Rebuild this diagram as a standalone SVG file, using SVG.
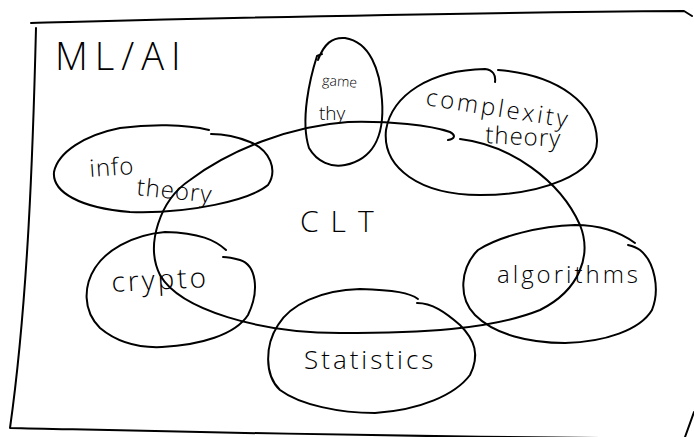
<svg xmlns="http://www.w3.org/2000/svg" width="694" height="437" viewBox="0 0 694 437">
  <style>
    .ink { fill: none; stroke: #000; stroke-width: 2; stroke-linecap: round; stroke-linejoin: round; }
    .lbl { font-family: "Open Sans", "Liberation Sans", sans-serif; font-weight: 300; fill: #000; }
  </style>
  <rect width="694" height="437" fill="#fff"/>

  <!-- outer frame: ML/AI -->
  <g id="ml-ai">
    <path class="ink" d="M31,23 C150,20 400,13 684,11 L692,16"/>
    <path class="ink" d="M36,28 C33,150 28,300 10,428 C150,431 350,436 600,438"/>
    <path class="ink" d="M694,412 L685,437"/>
    <text class="lbl" x="55" y="70" font-size="38" letter-spacing="7">ML/AI</text>
  </g>

  <g id="clt">
    <path class="ink" d="M448,140 C455,139 456,135 450,132 C430,125 390,121 348,122 C290,126 230,150 190,180 C160,200 145,245 160,275 C180,310 260,333 340,333 C420,333 490,330 540,310 C580,290 592,255 580,225 C560,180 510,145 460,139"/>
    <text class="lbl" x="300" y="232" font-size="30" letter-spacing="12">CLT</text>
  </g>

  <g id="game-theory">
    <path class="ink" d="M322,54 L317,56 C310,78 300,120 309,148 C317,162 332,168 345,165 C370,160 385,140 382,100 C380,70 370,42 345,38 C332,37 324,44 318,60"/>
    <text class="lbl" x="322" y="85" font-size="14" transform="rotate(4 322 85)">game</text>
    <text class="lbl" x="319" y="120" font-size="19">thy</text>
  </g>

  <g id="complexity-theory">
    <path class="ink" d="M495,82 C496,75 493,70 485,69 C430,70 392,95 386,130 C382,168 420,195 480,195 C540,195 598,175 597,140 C596,105 560,75 498,70"/>
    <text class="lbl" x="425" y="105" font-size="24" letter-spacing="3" transform="rotate(9 425 105)">complexity</text>
    <text class="lbl" x="485" y="143" font-size="24" letter-spacing="1" transform="rotate(3 485 143)">theory</text>
  </g>

  <g id="info-theory">
    <path class="ink" d="M209,130 C185,124 150,124 120,128 C85,135 58,152 54,172 C52,192 80,208 130,212 C190,214 250,200 268,185 C278,170 270,150 250,142 C238,137 225,134 211,134"/>
    <text class="lbl" x="90" y="177" font-size="24" letter-spacing="1" transform="rotate(-4 90 177)">info</text>
    <text class="lbl" x="136" y="195" font-size="24" letter-spacing="1" transform="rotate(6 136 195)">theory</text>
  </g>

  <g id="crypto">
    <path class="ink" d="M226,250 C215,240 200,233 165,232 C130,235 105,252 95,268 C84,285 82,310 100,328 C118,343 140,348 162,347 C200,345 235,335 248,315 C260,290 256,265 240,260 C233,258 228,257 223,257"/>
    <text class="lbl" x="112" y="292" font-size="28" letter-spacing="3" transform="rotate(-3 112 292)">crypto</text>
  </g>

  <g id="statistics">
    <path class="ink" d="M418,299 C410,293 395,290 360,289 C320,290 290,305 278,325 C265,345 264,375 280,390 C300,405 340,413 375,413 C420,410 455,395 470,375 C480,355 475,340 460,325 C445,312 432,303 417,303"/>
    <text class="lbl" x="304" y="369" font-size="26" letter-spacing="3">Statistics</text>
  </g>

  <g id="algorithms">
    <path class="ink" d="M635,243 C620,232 600,225 575,225 C540,226 500,236 478,250 C460,268 458,298 475,315 C495,335 530,343 565,343 C605,342 640,330 652,310 C660,290 655,262 640,250 C636,247 632,246 628,245"/>
    <text class="lbl" x="497" y="283" font-size="24" letter-spacing="3">algorithms</text>
  </g>
</svg>
